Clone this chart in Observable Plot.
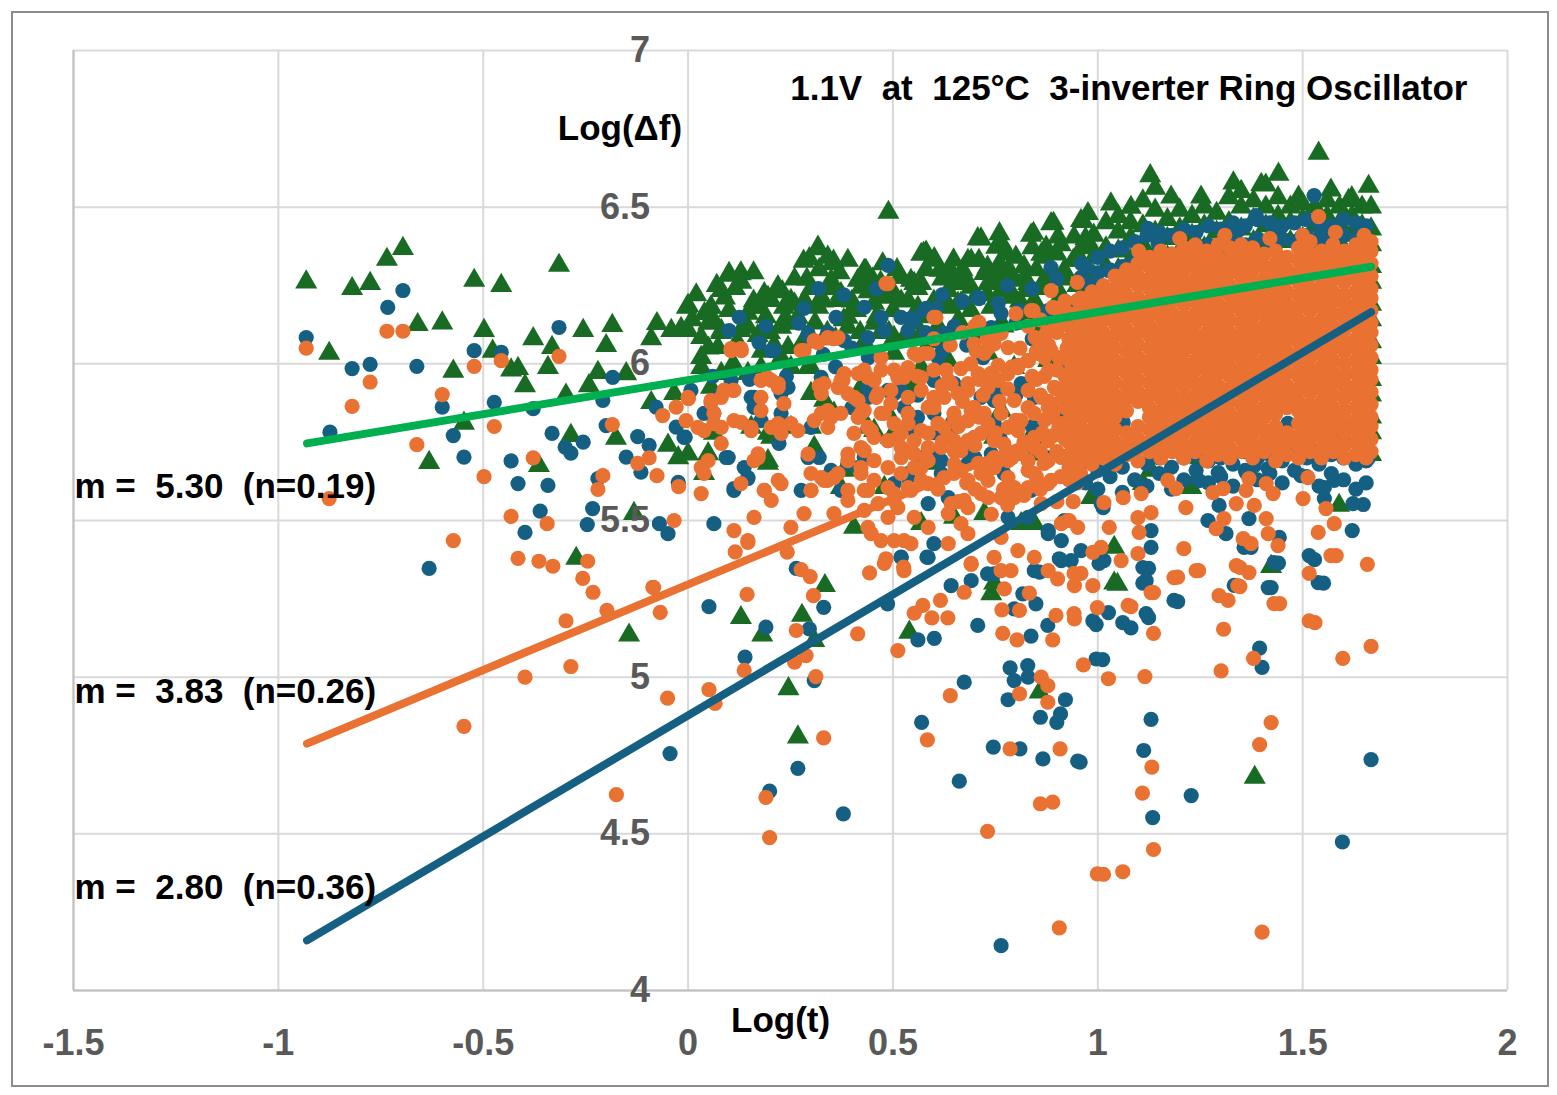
<!DOCTYPE html>
<html><head><meta charset="utf-8">
<script src="https://cdn.jsdelivr.net/npm/d3@7"></script>
<script src="https://cdn.jsdelivr.net/npm/@observablehq/plot@0.6"></script>
<style>
body{margin:0;background:#fff;}
#wrap{position:relative;width:1557px;height:1095px;overflow:hidden;}
#frame{position:absolute;left:11px;top:11px;width:1534px;height:1072px;border:2px solid #8c8c8c;}
#chart{position:absolute;left:0;top:0;}
svg text{white-space:pre;}
</style></head>
<body><div id="wrap"><div id="frame"></div><div id="chart"></div></div>
<script>
// ---------- axis ticks ----------
const xTicks = [-1.5, -1, -0.5, 0, 0.5, 1, 1.5, 2];
const yTicks = [4, 4.5, 5, 5.5, 6, 6.5, 7];

// ---------- trend lines (Log(t) endpoints, Log(Δf) values) ----------
const trendX = [-0.93, 1.667];
const greenTrendY = [5.746, 6.31];
const orangeTrendY = [4.788, 6.206];
const blueTrendY = [4.16, 6.165];
const trendLabels = ["m =  5.30  (n=0.19)", "m =  3.83  (n=0.26)", "m =  2.80  (n=0.36)"];
const trendLabelY = [5.608, 4.954, 4.328];

// ---------- green triangles ----------
const greenSparse = [
[-0.932,6.261],[-0.82,6.24],[-0.776,6.256],[-0.735,6.333],[-0.696,6.368],[-0.522,6.266],[-0.456,6.25],[-0.315,6.314],
[-0.876,6.033],[-0.66,6.125],[-0.60,6.13],[-0.498,6.106],[-0.477,6.04],[-0.573,5.976],[-0.432,5.98],[-0.415,5.985],
[-0.398,5.93],[-0.378,6.08],[-0.342,5.988],[-0.332,6.052],[-0.256,6.106],[-0.20,6.058],[-0.185,6.122],[-0.22,5.972],
[-0.242,5.93],[-0.298,5.90],[-0.151,5.968],[-0.076,6.128],[-0.09,6.08],[-0.041,6.106],[-0.003,6.18],[-0.017,6.113],
[-0.547,5.81],[-0.632,5.685],[-0.286,5.771],[-0.364,5.675],[-0.176,5.762],[-0.09,5.876],[-0.049,5.74],[-0.024,5.70],
[-0.034,5.905],[-0.132,5.522],[-0.273,5.379],[-0.144,5.134],[0.129,5.19],[0.181,5.134],[0.278,5.197],[0.308,5.117],
[0.334,5.292],[0.245,4.963],[0.268,4.809],[0.54,5.143],[0.74,5.266],[0.858,4.952],[1.423,5.353],[1.383,4.68],
[1.048,5.296],[0.984,5.573],[1.04,5.414],[1.04,5.30],[1.228,5.605],[1.11,5.618],[1.589,5.548],[0.723,5.522],
[0.845,5.49],[0.569,5.49],[0.747,5.30],[0.6,5.682],[0.544,5.937],[0.845,5.787],[0.454,5.787],[0.747,5.765],
[1.513,5.75],[1.6,5.77],[1.25,5.7],[1.13,5.66]
];
const greenBand = [
[0.489,6.483],[0.101,6.282],[0.128,6.287],[0.318,6.367],[0.296,6.335],[0.353,6.319],[0.341,6.34],[0.0,6.186],
[0.056,6.181],[0.219,6.245],[0.186,6.224],[0.284,6.202],[0.43,6.298],[0.414,6.266],[0.516,6.276],[0.544,6.266],
[0.581,6.356],[0.601,6.335],[0.614,6.298],[0.707,6.399],[0.76,6.415],[0.752,6.372],[0.837,6.41],[0.886,6.447],
[0.874,6.372],[0.959,6.457],[0.976,6.479],[0.691,6.33],[0.731,6.308],[0.78,6.298],[0.821,6.276],[0.475,6.319],
[0.657,6.266],[0.575,6.353],[0.434,6.298],[0.355,6.327],[0.282,6.327],[0.648,6.331],[0.843,6.416],[0.892,6.448],
[0.715,6.398],[0.764,6.387],
[0.0,6.106],[0.032,6.084],[0.063,6.138],[0.032,6.02],[0.073,6.052],[0.129,6.106],[0.146,6.161],[0.171,6.18],
[0.203,6.202],[0.234,6.18],[0.227,6.116],[0.244,6.052],[0.268,6.129],[0.318,6.18],[0.349,6.266],[0.366,6.202],
[0.39,6.148],[0.422,6.244],[0.454,6.193],[0.503,6.224],[0.537,6.202],[0.569,6.256],[0.635,6.234],[0.659,6.193],
[0.691,6.244],[0.732,6.256],[0.764,6.234],[0.796,6.266],[0.83,6.234],[0.869,6.266],[0.918,6.298],[0.959,6.33],
[0.984,6.372],[0.942,6.404],[0.903,6.404],[0.032,5.988],[0.146,5.969],[0.251,5.988],[0.293,5.988],[0.308,5.905],
[0.251,5.797],[0.203,5.765],[0.063,5.778],[0.0,5.712],[0.195,5.682],[0.381,5.66],[0.308,5.733],[0.479,5.605],
[0.649,5.51],[0.813,5.49],[0.405,5.478],[0.83,5.712],[0.356,5.842],[0.439,5.797],[0.503,6.033],[0.569,5.988],
[0.635,6.01],[0.732,6.033],[0.796,5.988],[0.879,6.01],[0.927,5.925],
[0.09,6.21],[0.115,6.24],[0.16,6.2],[0.2,6.1],[0.26,6.27],[0.3,6.24],[0.33,6.2],[0.4,6.2],[0.44,6.23],[0.47,6.26],
[0.5,6.17],[0.55,6.13],[0.6,6.2],[0.62,6.27],[0.67,6.3],[0.7,6.21],[0.74,6.18],[0.76,6.32],[0.8,6.34],[0.81,6.2],
[0.85,6.3],[0.86,6.16],[0.9,6.35],[0.91,6.22],[0.95,6.25],[0.97,6.4],[0.47,6.1],[0.42,6.1],[0.36,6.08],[0.11,6.0],[0.18,6.04],
[0.01,6.14],[0.04,6.16],[0.05,6.05],[0.08,6.1],[0.1,6.17],[0.12,6.07],[0.14,6.13],[0.17,6.09],[0.19,6.15],[0.21,6.06],
[0.23,6.23],[0.24,6.14],[0.26,6.19],[0.28,6.07],[0.29,6.27],[0.31,6.13],[0.02,6.22],[0.07,6.25],[0.13,6.26],[0.16,6.29],
[0.32,6.3],[0.34,6.1],[0.35,6.24],[0.37,6.29],[0.38,6.14],[0.39,6.33],[0.41,6.17],[0.43,6.07],[0.45,6.27],[0.46,6.15],
[0.48,6.22],[0.49,6.1],[0.51,6.3],[0.52,6.2],[0.53,6.09],[0.56,6.24],[0.57,6.15],[0.58,6.3],[0.59,6.07],
[0.61,6.12],[0.63,6.2],[0.64,6.3],[0.66,6.14],[0.68,6.26],[0.69,6.17],[0.71,6.33],[0.72,6.1],[0.73,6.22],[0.75,6.29],
[0.77,6.12],[0.78,6.35],[0.79,6.22],[0.82,6.31],[0.83,6.15],[0.84,6.37],[0.86,6.24],[0.87,6.34],[0.88,6.13],[0.89,6.29],
[0.91,6.38],[0.92,6.27],[0.93,6.18],[0.94,6.33],[0.96,6.37],[0.97,6.29],
[1.539,6.672],[1.128,6.60],[1.441,6.605],[1.661,6.566],[1.331,6.577],[1.399,6.572],[1.252,6.532],[1.569,6.554],
[1.612,6.521],[1.49,6.532],[1.032,6.51],[1.179,6.532],[1.081,6.499],[0.965,6.454]
];
const greenMid = [
[0.317,6.372],[0.353,6.32],[0.1,6.288],[0.129,6.29],[0.081,6.234],[0.22,6.244],[0.195,6.212],[0.251,6.202],
[0.161,6.18],[0.056,6.18],[0.049,6.129],[0.081,6.106],[0.146,6.116],[0.234,6.138],[0.268,6.148],[0.325,6.212],
[0.373,6.224],[0.405,6.17],[0.43,6.276],[0.52,6.276],[0.552,6.256],[0.569,6.349],[0.6,6.33],[0.635,6.276],
[0.666,6.256],[0.683,6.33],[0.723,6.288],[0.747,6.266],[0.789,6.288],[0.83,6.256],[0.862,6.349],[0.894,6.276],
[0.796,6.212],[0.845,6.202],[0.666,6.193],[0.635,6.18],[0.488,6.212],[0.561,6.18],[0.39,6.116],[0.454,6.129],
[0.503,6.084],[0.569,6.097],[0.625,6.074],[0.666,6.106],[0.764,6.129],[0.813,6.129],[0.854,6.116],[0.178,5.988],
[0.227,6.02],[0.3,5.988],[0.3,5.905],[0.195,5.778],[0.3,5.797],[0.195,5.691],[0.373,5.605],[0.495,5.765],
[0.488,5.842],[0.635,5.797],[0.154,5.797],[0.049,5.713],[0.039,5.65],[0.332,5.883],[0.422,5.925],[0.552,5.915],
[0.764,5.851],[0.837,5.765],[0.081,5.969],[0.056,5.925]
];
const greenDenseColumns = [
[0.99,[6.28,6.34,6.41]],[1.02,[6.31,6.37,6.45]],[1.05,[6.3,6.36,6.42,6.47]],[1.08,[6.33,6.4,6.45]],
[1.11,[6.32,6.38,6.44,6.52]],[1.14,[6.35,6.42,6.49,6.56]],[1.17,[6.34,6.4,6.46]],[1.2,[6.36,6.43,6.49]],
[1.23,[6.35,6.41,6.47]],[1.26,[6.37,6.44,6.5]],[1.29,[6.36,6.42,6.48]],[1.32,[6.38,6.45,6.53]],
[1.35,[6.37,6.43,6.5,6.55]],[1.38,[6.39,6.46,6.52]],[1.41,[6.38,6.44,6.5,6.57]],[1.44,[6.4,6.47,6.53]],
[1.47,[6.39,6.45,6.5]],[1.5,[6.4,6.46,6.51]],[1.53,[6.38,6.44,6.5]],[1.56,[6.4,6.47,6.52]],
[1.59,[6.39,6.45,6.5]],[1.62,[6.41,6.47,6.53]],[1.645,[6.38,6.44,6.5]],
[1.667,[5.71,5.78,5.83,5.9,5.95,6.02,6.07,6.14,6.19,6.26,6.31,6.38,6.43,6.5]]
];

// ---------- blue dots ----------
const blueSparse = [
[-0.932,6.084],[-0.733,6.18],[-0.696,6.234],[-0.82,5.985],[-0.776,5.998],[-0.662,5.992],[-0.874,5.782],[-0.60,5.862],
[-0.573,5.771],[-0.547,5.702],[-0.522,6.042],[-0.473,5.877],[-0.456,6.037],[-0.378,5.857],[-0.315,6.116],[-0.332,5.778],
[-0.432,5.69],[-0.415,5.618],[-0.342,5.612],[-0.361,5.53],[-0.398,5.462],[-0.632,5.347],[-0.30,5.734],[-0.286,5.715],
[-0.256,5.75],[-0.208,5.883],[-0.20,5.803],[-0.184,5.957],[-0.22,5.634],[-0.233,5.538],[-0.246,5.487],[-0.151,5.702],
[-0.123,5.768],[-0.095,5.74],[-0.115,5.654],[-0.078,5.862],[-0.029,5.798],[-0.007,5.766],[-0.07,5.49],[-0.049,5.458],
[-0.024,5.622],[-0.044,4.756],[0.051,5.225],[0.19,5.16],[0.139,5.064],[0.199,4.636],[0.264,5.347],[0.331,5.223],
[0.296,5.154],[0.308,4.989],[0.268,4.709],[0.379,4.564],[0.487,5.234],[0.52,5.383],[0.583,5.383],[0.561,5.119],
[0.601,5.124],[0.642,5.292],[0.691,5.308],[0.707,5.165],[0.674,4.984],[0.57,4.856],[0.745,4.777],[0.81,4.771],
[0.662,4.668],[0.786,5.03],[0.829,5.037],[0.796,4.989],[0.83,5.0],[0.781,4.928],[0.86,4.872],[0.9,4.856],
[0.909,4.883],[0.921,4.928],[0.866,4.739],[0.951,4.732],[0.764,4.143],[0.837,5.131],[0.878,5.165],[0.849,5.234],
[0.796,5.218],[0.817,5.266],[0.731,5.33],[0.858,5.335],[0.906,5.378],[0.996,5.058],[0.988,5.18],
[1.529,5.375],[1.551,5.30],[1.423,5.286],[1.441,5.364],[1.395,5.093],[1.401,5.031],[1.667,4.737],[1.597,4.474],
[1.195,5.241],[1.124,5.19],[1.13,4.865],[1.112,4.766],[1.134,4.552],[1.228,4.622],[1.012,5.056],[0.996,5.168],
[1.026,5.206],[1.061,5.174],[1.081,5.157],[1.124,5.347],[1.118,5.308],[0.957,4.729],[1.374,5.414],
[1.66,5.698],[1.621,5.468],[1.623,5.554],[1.648,5.551],[1.553,5.57],[1.496,5.643],[1.516,5.388],[1.538,5.302],
[1.43,5.366],[1.416,5.286],[1.443,5.446],[1.369,5.506],[1.296,5.548],[1.269,5.5],[1.313,5.458],[1.247,5.627],
[1.357,5.414],[1.333,5.293],[1.186,5.245],[1.13,5.468],[1.13,5.414],[1.11,5.35],[1.11,5.3],[1.118,5.203],
[1.013,5.541],[0.935,5.372],[0.959,5.404],[1.003,5.363],[1.294,5.653],[1.416,5.666],[1.577,5.628],[1.553,5.605],
[1.362,5.653],[1.382,5.675],
[0.488,6.314],[0.886,6.307],[0.43,6.18],[0.471,6.148],[0.52,6.148],[0.576,6.17],[0.708,6.212],[0.757,6.193],
[0.764,6.161],[0.959,6.276],[0.991,6.256],[1.025,6.298],[0.879,6.17],[0.625,6.097],[0.61,6.02],[0.52,5.915],
[0.439,5.893],[0.43,5.701],[0.527,5.861],[0.683,5.723],[0.764,5.787],[0.781,5.701],[0.6,5.712],[0.537,5.637],
[0.503,5.618],[0.586,5.554],[0.635,5.573],[0.83,5.51],[0.879,5.468],[0.781,5.51],[0.911,5.436],[0.911,5.372],
[0.586,5.382],[0.52,5.382],[0.747,5.33],[0.845,5.34],[1.015,5.372],[1.008,5.554],
[0.318,6.24],[0.361,6.148],[0.283,6.177],[0.125,6.148],[0.1,6.106],[0.173,6.068],[0.203,6.042],[0.293,6.097],
[0.552,6.138],[0.581,6.177],[0.71,6.208],[0.007,5.915],[-0.01,5.765],[0.081,5.905],[0.154,5.893],[0.161,5.861],
[0.227,5.905],[0.178,5.819],[0.293,5.701],[0.098,5.701],[0.137,5.669],[0.146,5.637],[0.112,5.596],[0.276,5.596],
[0.39,5.682],[0.373,5.596],[0.063,5.49],[0.503,5.905],[0.537,5.842],[0.552,5.787],[0.488,5.755],[0.569,5.701],
[0.618,5.65],[0.537,5.65],[0.74,5.669],[0.771,5.65],[0.837,5.596],[0.879,5.458],[0.918,5.5],[0.6,5.426],
[0.325,5.957],[0.439,5.925],[0.33,6.03],[0.4,6.05],[0.65,6.12],[0.8,6.13],[0.84,6.08],[0.92,6.15],[0.95,6.2],
[1.122,6.432],[1.386,6.473],[1.528,6.537],[1.342,6.425],[1.43,6.441],[1.545,6.425],[1.65,6.419],[1.147,6.384],
[1.496,6.403],[1.062,5.813],[1.464,5.81],
[0.58,6.1],[0.62,6.04],[0.68,6.06],[0.72,6.02],[0.76,5.92],[0.8,5.9],[0.84,5.8],[0.88,5.7],[0.9,5.84],[0.92,6.0],
[0.66,5.92],[0.7,5.7],[0.6,5.78],[0.56,5.9],[0.44,6.02],[0.36,5.99],[0.4,5.86],[0.24,5.96],[0.15,5.95],[0.06,5.96],
[0.27,6.13],[0.19,6.12],[0.38,6.22],[0.46,6.24],[0.62,6.22],[0.67,6.2],[0.78,6.25],[0.84,6.24],[0.9,6.27],[0.96,6.32]
];
const blueMid = [
[0.544,6.145],[0.605,6.177],[0.808,6.17],[0.21,6.042],[0.293,6.09],[0.341,6.1],[0.381,6.074],[0.439,6.084],
[0.479,6.106],[0.537,6.106],[0.6,6.084],[0.649,6.116],[0.74,6.116],[0.244,5.925],[0.161,5.893],[0.227,5.842],
[0.3,5.797],[0.039,5.842],[0.063,5.842],[0.105,5.947],[0.222,5.746],[0.093,5.701],[0.32,5.701],[0.146,5.634],
[0.112,5.602],[0.349,5.66],[0.415,5.669],[0.488,5.915],[0.6,5.947],[0.56,5.829],[0.6,5.842],[0.649,5.937],
[0.715,5.893],[0.747,5.883],[0.747,5.809],[0.764,5.755],[0.618,5.691],[0.683,5.682],[0.74,5.713],[0.845,5.778],
[0.813,5.937],[0.845,5.893]
];
const blueDenseColumns = [
[0.97,[6.26,6.31,5.62,5.69]],[1.0,[6.29,6.34,5.6,5.66]],[1.03,[6.3,6.36,5.64,5.7]],[1.06,[6.31,6.37,5.59,5.67]],
[1.09,[6.33,6.39,5.63,5.71]],[1.12,[6.34,6.41,5.61,5.68]],[1.15,[6.36,6.42,5.65,5.7]],[1.18,[6.35,6.41,5.6,5.67]],
[1.21,[6.37,6.43,5.63,5.7]],[1.24,[6.36,6.42,5.66,5.71]],[1.27,[6.38,6.44,5.62,5.69]],[1.3,[6.37,6.43,5.64,5.7]],
[1.33,[6.39,6.45,5.61,5.68]],[1.36,[6.38,6.44,5.66,5.72]],[1.39,[6.4,6.46,5.63,5.7]],[1.42,[6.39,6.45,5.65,5.71]],
[1.45,[6.4,6.44,5.62,5.69]],[1.48,[6.39,6.45,5.66,5.72]],[1.51,[6.41,6.46,5.64,5.7]],[1.54,[6.4,6.45,5.61,5.68]],
[1.57,[6.39,6.44,5.65,5.71]],[1.6,[6.41,6.46,5.63,5.7]],[1.63,[6.4,6.45,5.6,5.68]],[1.655,[6.39,6.44,5.62,5.69]]
];

// ---------- orange dots ----------
const orangeSparse = [
[-0.932,6.05],[-0.735,6.104],[-0.696,6.104],[-0.776,5.942],[-0.82,5.864],[-0.60,5.902],[-0.522,5.992],[-0.456,6.01],
[-0.315,6.024],[-0.662,5.742],[-0.473,5.80],[-0.876,5.57],[-0.498,5.64],[-0.378,5.70],[-0.432,5.513],[-0.344,5.49],
[-0.573,5.436],[-0.415,5.379],[-0.364,5.37],[-0.33,5.354],[-0.245,5.37],[-0.257,5.315],[-0.232,5.271],[-0.208,5.643],
[-0.22,5.599],[-0.185,5.806],[-0.123,5.682],[-0.095,5.70],[-0.076,5.643],[-0.062,5.835],[-0.029,5.862],[-0.005,5.819],
[0.001,5.889],[-0.023,5.608],[-0.034,5.50],[-0.086,5.287],[-0.298,5.18],[-0.198,5.213],[-0.084,5.286],[-0.068,5.207],
[-0.286,5.034],[-0.398,5.00],[-0.547,4.843],[-0.05,4.933],[-0.175,4.625],[0.115,5.40],[0.144,5.264],[0.137,5.022],
[0.051,4.96],[0.066,4.916],[0.19,4.616],[0.199,4.488],
[0.146,5.43],[0.242,5.399],[0.276,5.343],[0.298,5.321],[0.306,5.26],[0.264,5.149],[0.26,5.048],[0.288,5.069],
[0.312,5.002],[0.331,4.806],[0.414,5.138],[0.443,5.333],[0.483,5.378],[0.526,5.351],[0.512,5.085],[0.552,5.204],
[0.573,5.229],[0.595,5.189],[0.616,5.245],[0.634,5.189],[0.64,4.941],[0.584,4.8],[0.674,5.271],[0.691,5.36],
[0.764,5.34],[0.772,5.282],[0.766,5.215],[0.768,5.14],[0.803,5.119],[0.809,5.213],[0.833,5.268],[0.898,5.197],
[0.89,5.119],[0.902,5.314],[0.943,5.186],[0.943,5.292],[0.965,5.039],[0.809,4.947],[0.862,5.0],[0.878,4.973],
[0.878,4.92],[0.786,4.771],[0.908,4.771],[0.86,4.596],[0.89,4.601],[0.731,4.508],[0.906,4.2],[0.999,4.372],
[1.582,5.388],[1.658,5.36],[1.53,5.174],[1.598,5.06],[1.667,5.098],[1.444,5.235],[1.38,5.06],[1.423,4.855],
[1.395,4.785],[1.401,4.186],[1.307,5.153],[1.301,5.02],[1.347,5.35],[1.347,5.289],[1.246,5.34],[1.195,5.319],
[1.136,5.27],[1.136,5.14],[1.115,5.002],[1.132,4.713],[1.109,4.63],[1.136,4.45],[1.026,4.995],[1.014,4.371],
[1.061,4.379],[1.081,5.225],
[1.513,5.637],[1.501,5.57],[1.557,5.538],[1.577,5.49],[1.538,5.462],[1.569,5.388],[1.516,5.331],[1.43,5.235],
[1.44,5.42],[1.416,5.458],[1.411,5.506],[1.428,5.586],[1.411,5.618],[1.369,5.634],[1.362,5.596],[1.382,5.548],
[1.338,5.554],[1.306,5.602],[1.281,5.589],[1.308,5.506],[1.289,5.474],[1.355,5.442],[1.374,5.426],[1.338,5.356],
[1.369,5.334],[1.342,5.292],[1.296,5.26],[1.318,5.245],[1.24,5.34],[1.186,5.318],[1.21,5.41],[1.215,5.541],
[1.191,5.602],[1.171,5.628],[1.13,5.27],[1.074,5.229],[1.098,5.394],[1.101,5.462],[1.098,5.509],[1.13,5.525],
[1.106,5.586],[1.062,5.573],[1.015,5.557],[1.028,5.478],[1.057,5.372],[1.008,5.414],[0.988,5.398],[0.942,5.331],
[0.959,5.331],[0.988,5.292],[0.999,5.222],[0.942,5.203],[0.927,5.5],[0.951,5.478],[1.516,5.18],
[0.488,6.256],[0.886,6.234],[0.842,6.17],[0.605,6.148],[0.71,6.132],[0.703,6.042],[0.666,5.985],[0.576,6.033],
[0.552,6.033],[0.732,6.049],[0.781,6.052],[0.764,6.097],[0.869,6.08],[0.903,6.116],[0.952,6.202],[0.991,6.148],
[0.927,6.042],[0.83,6.01],[0.805,5.995],[0.757,5.995],[0.723,5.957],[0.439,5.957],[0.471,5.98],[0.503,5.98],
[0.527,5.957],[0.495,5.915],[0.459,5.893],[0.43,5.851],[0.471,5.842],[0.447,5.787],[0.43,5.723],[0.454,5.691],
[0.537,5.893],[0.569,5.915],[0.586,5.861],[0.625,5.893],[0.642,5.937],[0.683,5.915],[0.691,5.851],[0.65,5.829],
[0.61,5.809],[0.569,5.787],[0.537,5.809],[0.512,5.765],[0.527,5.723],[0.586,5.733],[0.635,5.765],[0.666,5.723],
[0.698,5.765],[0.732,5.809],[0.764,5.842],[0.796,5.883],[0.83,5.915],[0.862,5.893],[0.894,5.925],[0.927,5.957],
[0.879,5.829],[0.911,5.809],[0.845,5.765],[0.805,5.787],[0.771,5.744],[0.747,5.701],[0.708,5.682],[0.666,5.66],
[0.625,5.637],[0.586,5.618],[0.544,5.596],[0.503,5.564],[0.464,5.554],[0.43,5.532],[0.569,5.669],[0.488,5.51],
[0.447,5.458],[0.503,5.436],[0.544,5.426],[0.479,5.363],[0.527,5.34],[0.642,5.554],[0.683,5.541],[0.666,5.49],
[0.635,5.426],[0.691,5.363],[0.732,5.573],[0.764,5.573],[0.796,5.573],[0.732,5.628],[0.781,5.637],[0.83,5.66],
[0.869,5.682],[0.911,5.701],[0.879,5.618],[0.862,5.554],[0.764,5.446],[0.805,5.404],[0.845,5.382],[0.879,5.34],
[0.747,5.382],[0.788,5.34],[0.911,5.49],
[0.105,6.049],[0.129,6.049],[0.0,5.893],[0.056,5.883],[0.088,5.915],[0.11,5.915],[0.178,5.947],[0.203,5.947],
[0.22,5.925],[0.178,5.893],[0.234,5.873],[0.063,5.842],[0.024,5.797],[0.081,5.797],[0.112,5.819],[0.154,5.797],
[0.203,5.797],[0.251,5.809],[0.227,5.778],[0.081,5.746],[0.032,5.669],[0.039,5.65],[0.171,5.701],[0.032,5.586],
[0.129,5.618],[0.186,5.596],[0.227,5.618],[0.203,5.564],[0.112,5.468],[0.146,5.436],[0.161,5.51],[0.251,5.478],
[0.283,5.522],[0.3,5.596],[0.325,5.637],[0.341,5.628],[0.293,5.712],[0.308,5.819],[0.325,5.842],[0.341,5.851],
[0.332,5.937],[0.366,5.925],[0.373,5.947],[0.381,5.969],[0.405,5.893],[0.422,5.842],[0.405,5.778],[0.39,5.712],
[0.366,5.65],[0.422,5.669],[0.308,6.074],[0.341,6.084],[0.366,6.084],[0.283,6.042],[0.837,6.17],
[0.356,5.522],[0.39,5.564],[0.43,5.596],[0.488,5.605],[0.52,5.65],[0.552,5.669],[0.512,5.541],[0.552,5.51],
[0.586,5.478],[0.635,5.522],[0.674,5.564],[0.715,5.586],[0.683,5.458],[0.439,5.478],[0.471,5.436],[0.527,5.436],
[1.539,6.47],[1.2,6.4],[1.31,6.41],[1.42,6.4],[1.5,6.41],[1.58,6.42],[1.65,6.41],[1.1,6.36],
[0.56,5.96],[0.58,5.7],[0.6,5.86],[0.61,5.6],[0.62,5.75],[0.63,5.98],[0.65,5.68],[0.66,5.8],[0.67,5.88],[0.68,5.62],
[0.69,6.0],[0.7,5.74],[0.71,5.83],[0.72,5.9],[0.73,5.66],[0.74,5.97],[0.75,5.78],[0.76,5.88],[0.77,5.6],[0.78,5.92],
[0.79,5.7],[0.8,5.82],[0.81,6.05],[0.82,5.75],[0.83,5.86],[0.84,5.96],[0.85,5.64],[0.86,5.72],[0.87,6.02],[0.88,5.88],
[0.89,5.77],[0.9,5.98],[0.91,5.64],[0.92,5.86],[0.93,6.08],[0.94,5.56],[0.95,5.62],
[0.6,6.08],[0.64,6.06],[0.67,6.1],[0.7,6.12],[0.73,6.08],[0.76,6.1],[0.8,6.16],[0.83,6.12],[0.86,6.14],[0.89,6.18],
[0.92,6.2],[0.95,6.26],[0.9,6.1],[0.85,6.04],[0.66,5.56],[0.7,5.6],[0.74,5.52],[0.78,5.55],[0.82,5.58],[0.86,5.6],
[0.9,5.56],[0.93,5.5],[0.62,5.93],[0.65,5.72],[0.71,5.95],[0.75,5.68],[0.79,5.99],[0.83,5.69],[0.87,5.82],[0.91,5.92],
[0.94,5.78],[0.94,5.98],
[0.86,5.9],[0.87,5.96],[0.88,6.06],[0.89,5.84],[0.9,5.72],[0.905,6.02],[0.91,5.88],[0.915,6.13],[0.92,5.76],[0.92,5.96],
[0.925,6.05],[0.905,5.8],[0.895,6.12],[0.875,6.1],[0.865,5.78],[0.85,5.95],[0.86,6.06],[0.88,5.98],[0.9,5.92],[0.91,6.16]
];
const orangeMid = [
[0.483,6.256],[0.6,6.148],[0.708,6.132],[0.105,6.042],[0.13,6.042],[0.276,6.042],[0.317,6.068],[0.356,6.08],
[0.586,6.033],[0.561,6.026],[0.471,6.02],[0.698,6.064],[0.723,6.033],[0.747,6.064],[0.847,6.084],
[0.088,5.915],[0.112,5.915],[0.193,5.956],[0.22,5.937],[0.056,5.876],[0.063,5.809],[0.13,5.813],[0.154,5.787],
[0.32,5.93],[0.378,5.947],[0.39,5.905],[0.415,5.969],[0.43,5.98],[0.454,5.947],[0.464,5.905],[0.415,5.883],
[0.349,5.829],[0.341,5.797],[0.373,5.842],[0.415,5.829],[0.439,5.797],[0.479,5.842],[0.503,5.809],[0.52,5.778],
[0.537,5.842],[0.495,5.873],[0.512,5.956],[0.537,5.988],[0.569,5.956],[0.6,5.98],[0.635,5.947],[0.6,5.893],
[0.659,5.905],[0.683,5.937],[0.708,5.969],[0.732,5.925],[0.757,5.947],[0.781,5.969],[0.805,5.988],[0.83,6.01],
[0.854,6.033],[0.886,6.042],[0.698,5.861],[0.723,5.842],[0.683,5.819],[0.649,5.842],[0.625,5.797],[0.586,5.778],
[0.552,5.755],[0.52,5.733],[0.488,5.755],[0.454,5.765],[0.422,5.733],[0.39,5.691],[0.422,5.65],[0.454,5.628],
[0.488,5.669],[0.52,5.701],[0.552,5.713],[0.586,5.691],[0.618,5.733],[0.649,5.755],[0.683,5.755],[0.715,5.778],
[0.747,5.755],[0.781,5.797],[0.813,5.819],[0.845,5.842],[0.879,5.861],[0.845,5.733],[0.813,5.713],[0.781,5.691],
[0.747,5.669],[0.715,5.65],[0.683,5.628],[0.649,5.65],[0.569,5.628],[0.537,5.605],[0.879,5.755],[0.879,5.691],
[0.845,5.65],[0.886,5.628],[0.83,5.605],[0.796,5.605],[0.081,5.893],[0.178,5.851],[0.22,5.809],[0.268,5.787],
[0.049,5.691],[0.161,5.691],[0.171,5.713],[0.22,5.628],[0.186,5.596],[0.3,5.65],[0.332,5.628],[0.356,5.637],
[0.39,5.596],[0.439,5.596],[0.503,5.586],[0.3,5.596],[0.325,5.905],[0.039,5.787]
];
const orangeDenseColumns = [
[0.93,[5.63,5.67,5.71,5.75,5.78,5.82,5.86,5.9,5.93,5.97,6.01,6.05,6.08,6.12,6.16]],
[0.958,[5.65,5.69,5.73,5.77,5.8,5.84,5.88,5.92,5.95,5.99,6.03,6.07,6.1,6.14,6.18,6.21]],
[0.986,[5.68,5.71,5.75,5.79,5.83,5.86,5.9,5.94,5.97,6.01,6.05,6.09,6.12,6.16,6.2,6.23]],
[1.014,[5.7,5.73,5.77,5.81,5.84,5.88,5.92,5.96,5.99,6.03,6.07,6.1,6.14,6.18,6.22,6.25]],
[1.042,[5.68,5.72,5.75,5.79,5.83,5.87,5.9,5.94,5.98,6.01,6.05,6.09,6.13,6.16,6.2,6.24,6.28]],
[1.07,[5.71,5.74,5.78,5.85,5.89,5.93,5.97,6.0,6.04,6.08,6.11,6.15,6.19,6.22,6.26,6.3]],
[1.098,[5.69,5.73,5.76,5.8,5.88,5.91,5.95,5.99,6.02,6.06,6.1,6.14,6.17,6.21,6.25,6.28,6.32]],
[1.126,[5.72,5.75,5.79,5.83,5.86,5.9,5.94,5.98,6.01,6.05,6.09,6.12,6.16,6.2,6.24,6.27,6.31,6.34]],
[1.154,[5.7,5.74,5.77,5.81,5.85,5.89,5.92,5.96,6.0,6.03,6.07,6.11,6.15,6.18,6.22,6.26,6.29,6.33,6.36]],
[1.182,[5.72,5.76,5.79,5.83,5.87,5.9,5.94,5.98,6.02,6.05,6.09,6.13,6.16,6.2,6.24,6.28,6.31,6.35]],
[1.21,[5.7,5.74,5.78,5.81,5.85,5.89,5.93,5.96,6.0,6.04,6.07,6.11,6.15,6.19,6.22,6.26,6.3,6.33,6.37]],
[1.238,[5.72,5.75,5.79,5.83,5.87,5.9,5.94,5.98,6.01,6.05,6.09,6.13,6.16,6.2,6.24,6.27,6.31,6.35,6.38]],
[1.266,[5.69,5.73,5.77,5.81,5.84,5.88,5.92,5.95,5.99,6.03,6.07,6.1,6.14,6.18,6.21,6.25,6.29,6.33,6.36]],
[1.294,[5.71,5.75,5.79,5.82,5.86,5.9,5.93,5.97,6.01,6.05,6.08,6.12,6.16,6.19,6.23,6.27,6.31,6.34,6.38]],
[1.322,[5.7,5.73,5.77,5.81,5.84,5.88,5.92,5.96,5.99,6.03,6.07,6.1,6.14,6.18,6.22,6.25,6.29,6.33,6.37]],
[1.35,[5.72,5.76,5.79,5.83,5.87,5.91,5.94,5.98,6.02,6.05,6.09,6.13,6.17,6.2,6.24,6.28,6.31,6.35,6.38]],
[1.378,[5.7,5.74,5.78,5.81,5.85,5.89,5.92,5.96,6.0,6.04,6.07,6.11,6.15,6.18,6.22,6.26,6.3,6.33,6.37]],
[1.406,[5.72,5.75,5.79,5.83,5.86,5.9,5.94,5.98,6.01,6.05,6.09,6.12,6.16,6.2,6.23,6.27,6.31,6.35]],
[1.434,[5.69,5.73,5.77,5.8,5.84,5.88,5.92,5.95,5.99,6.03,6.06,6.1,6.14,6.18,6.21,6.25,6.29,6.32,6.36]],
[1.462,[5.71,5.75,5.78,5.86,5.9,5.93,5.97,6.01,6.04,6.08,6.12,6.16,6.19,6.23,6.27,6.3,6.34]],
[1.49,[5.7,5.74,5.77,5.81,5.85,5.88,5.92,5.96,6.0,6.03,6.07,6.11,6.14,6.18,6.22,6.26,6.29,6.33,6.37]],
[1.518,[5.72,5.76,5.79,5.83,5.87,5.91,5.94,5.98,6.02,6.05,6.09,6.13,6.17,6.2,6.24,6.28,6.31,6.35,6.39]],
[1.546,[5.7,5.73,5.77,5.81,5.85,5.88,5.92,5.96,5.99,6.03,6.07,6.11,6.14,6.18,6.22,6.25,6.29,6.33,6.36]],
[1.574,[5.72,5.75,5.79,5.83,5.86,5.9,5.94,5.97,6.01,6.05,6.09,6.12,6.16,6.2,6.23,6.27,6.31,6.35,6.38]],
[1.602,[5.7,5.74,5.78,5.81,5.85,5.89,5.93,5.96,6.0,6.04,6.07,6.11,6.15,6.19,6.22,6.26,6.3,6.33,6.36]],
[1.63,[5.71,5.75,5.79,5.82,5.86,5.9,5.93,5.97,6.01,6.05,6.08,6.12,6.16,6.19,6.23,6.27,6.31,6.34,6.38]],
[1.655,[5.7,5.73,5.77,5.81,5.84,5.88,5.92,5.96,5.99,6.03,6.07,6.1,6.14,6.18,6.22,6.25,6.29,6.33,6.37]],
[1.667,[5.72,5.76,5.8,5.83,5.87,5.91,5.95,5.98,6.02,6.06,6.1,6.13,6.17,6.21,6.24,6.28,6.32,6.36,6.39]]
];

// ---------- text ----------
const titleText = "1.1V  at  125°C  3-inverter Ring Oscillator";
const yTitle = "Log(\u0394f)";
const xTitle = "Log(t)";

// ---------- build ----------
const cols = c => c.flatMap(([x, ys]) => ys.map(y => [x, y]));
const green = greenSparse.concat(greenBand, greenMid, cols(greenDenseColumns));
const blue = blueSparse.concat(blueMid, cols(blueDenseColumns));
const orange = orangeSparse.concat(orangeMid, cols(orangeDenseColumns));
const trends = [
  {name: "green", color: "#00B050", ys: greenTrendY},
  {name: "orange", color: "#E97132", ys: orangeTrendY},
  {name: "blue", color: "#156082", ys: blueTrendY}
].flatMap(s => trendX.map((x, i) => ({name: s.name, color: s.color, x, y: s.ys[i]})));
const labelRows = trendLabels.map((t, i) => ({t, y: trendLabelY[i]}));

const FONT = "'Liberation Sans', Arial, sans-serif";
const fig = Plot.plot({
  width: 1557, height: 1095,
  marginLeft: 73, marginRight: 50, marginTop: 50, marginBottom: 105,
  x: {domain: [-1.5, 2], axis: null},
  y: {domain: [4, 7], axis: null},
  style: {background: "transparent", fontFamily: FONT, overflow: "visible"},
  marks: [
    Plot.ruleX(xTicks, {stroke: "#d9d9d9", strokeWidth: 2}),
    Plot.ruleY(yTicks, {stroke: "#d9d9d9", strokeWidth: 2}),
    Plot.ruleX([-1.5], {stroke: "#bfbfbf", strokeWidth: 2}),
    Plot.ruleY([4], {stroke: "#bfbfbf", strokeWidth: 2}),
    Plot.dot(green, {x: d => d[0], y: d => d[1], symbol: "triangle", r: 8.2, fill: "#196B24"}),
    Plot.dot(blue, {x: d => d[0], y: d => d[1], r: 7.6, fill: "#156082"}),
    Plot.dot(orange, {x: d => d[0], y: d => d[1], r: 7.6, fill: "#E97132"}),
    Plot.line(trends, {x: "x", y: "y", z: "name", stroke: "color", strokeWidth: 8, strokeLinecap: "round"}),
    Plot.text(yTicks, {x: 0, y: d => d, text: d => String(d), textAnchor: "end", lineAnchor: "middle", dx: -38, fontSize: 36, fontWeight: "bold", fill: "#595959"}),
    Plot.text(xTicks, {x: d => d, frameAnchor: "bottom", text: d => String(d), lineAnchor: "middle", dy: 53, fontSize: 36, fontWeight: "bold", fill: "#595959"}),
    Plot.text([titleText], {frameAnchor: "top-right", text: d => d, textAnchor: "end", lineAnchor: "middle", dx: -40, dy: 38, fontSize: 35, fontWeight: "bold", fill: "#000"}),
    Plot.text([yTitle], {x: 0, frameAnchor: "top", text: d => d, textAnchor: "end", lineAnchor: "middle", dx: -6, dy: 78, fontSize: 35, fontWeight: "bold", fill: "#000"}),
    Plot.text([xTitle], {x: 0, frameAnchor: "bottom", text: d => d, textAnchor: "start", lineAnchor: "middle", dx: 43, dy: 30, fontSize: 35, fontWeight: "bold", fill: "#000"}),
    Plot.text(labelRows, {x: -1.5, y: "y", text: "t", textAnchor: "start", lineAnchor: "middle", dx: 1, fontSize: 35, fontWeight: "bold", fill: "#000"})
  ]
});
document.getElementById("chart").appendChild(fig);
</script>
</body></html>
